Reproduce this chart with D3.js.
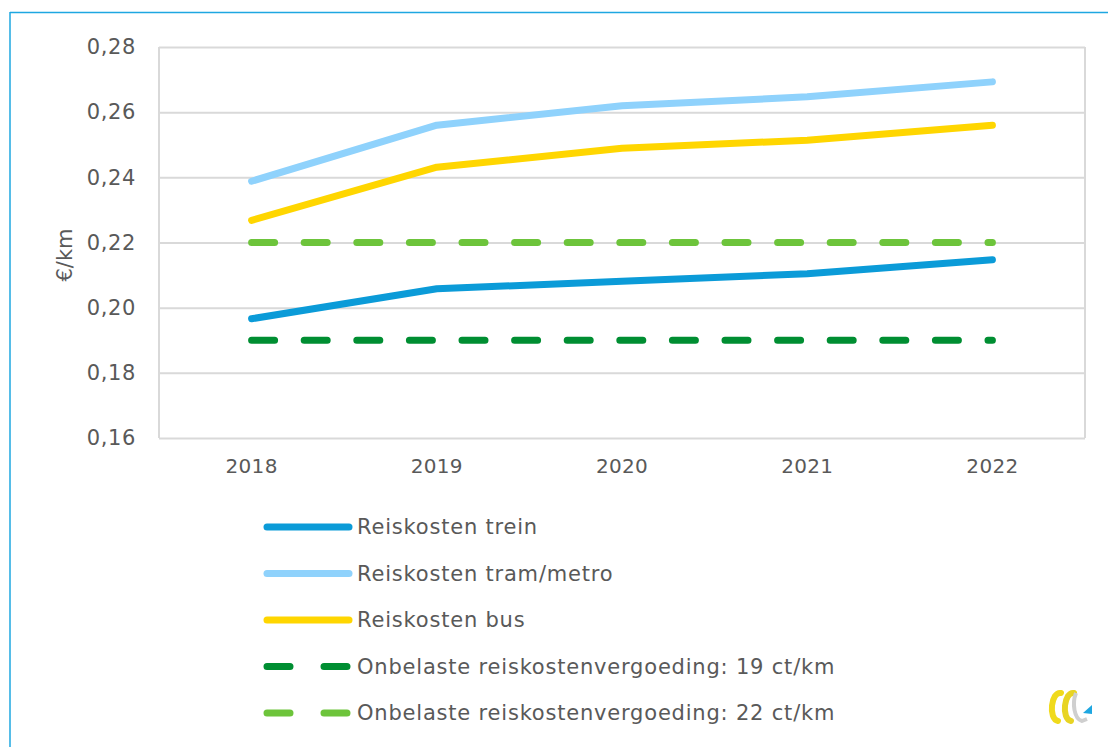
<!DOCTYPE html>
<html>
<head>
<meta charset="utf-8">
<script src="https://cdn.jsdelivr.net/npm/d3@7"></script>
<style>
  body { margin: 0; background: #fff; }
  svg text { font-family: "DejaVu Sans", Verdana, sans-serif; fill: #595959; }
</style>
</head>
<body>
<svg id="chart" width="1108" height="747"></svg>
<script>
// data
const years = ["2018", "2019", "2020", "2021", "2022"];
const trein = [0.1966, 0.2058, 0.2081, 0.2104, 0.2147];
const tramMetro = [0.2388, 0.2560, 0.2620, 0.2647, 0.2693];
const bus = [0.2268, 0.2431, 0.2489, 0.2514, 0.2560];
const vergoeding19 = [0.19, 0.19, 0.19, 0.19, 0.19];
const vergoeding22 = [0.22, 0.22, 0.22, 0.22, 0.22];
const yTicks = [0.16, 0.18, 0.20, 0.22, 0.24, 0.26, 0.28];

const series = [
  { name: "Reiskosten trein", values: trein, color: "#0b9bd8", dashed: false },
  { name: "Reiskosten tram/metro", values: tramMetro, color: "#8fd2fc", dashed: false },
  { name: "Reiskosten bus", values: bus, color: "#ffd600", dashed: false },
  { name: "Onbelaste reiskostenvergoeding: 19 ct/km", values: vergoeding19, color: "#008e32", dashed: true },
  { name: "Onbelaste reiskostenvergoeding: 22 ct/km", values: vergoeding22, color: "#6dc43b", dashed: true }
];

const svg = d3.select("#chart");
const margin = { top: 47, right: 23, bottom: 309, left: 159 };
const width = 1108, height = 747;

// outer frame (blue, top + left only visible)
svg.append("line").attr("x1", 10).attr("y1", 12.5).attr("x2", width).attr("y2", 12.5)
  .attr("stroke", "#1ea7e1").attr("stroke-width", 1.5);
svg.append("line").attr("x1", 10).attr("y1", 12).attr("x2", 10).attr("y2", height)
  .attr("stroke", "#1ea7e1").attr("stroke-width", 1.5);

const x = d3.scaleBand()
  .domain(years)
  .range([margin.left, width - margin.right]);

const y = d3.scaleLinear()
  .domain([0.16, 0.28])
  .range([height - margin.bottom, margin.top]);

// gridlines
const yGrid = d3.axisLeft(y)
  .tickValues(yTicks)
  .tickSize(-(width - margin.left - margin.right))
  .tickFormat("");
svg.append("g")
  .attr("transform", `translate(${margin.left}, 0)`)
  .call(yGrid)
  .call(g => g.select(".domain").remove())
  .call(g => g.selectAll("line").attr("stroke", "#d9d9d9").attr("stroke-width", 2));

// plot border sides
svg.append("g").selectAll("line")
  .data([margin.left, width - margin.right])
  .join("line")
  .attr("x1", d => d).attr("x2", d => d)
  .attr("y1", margin.top).attr("y2", height - margin.bottom)
  .attr("stroke", "#d9d9d9").attr("stroke-width", 2);

// y axis labels
const yAxis = d3.axisLeft(y)
  .tickValues(yTicks)
  .tickSize(0)
  .tickPadding(23)
  .tickFormat(d => d.toFixed(2).replace(".", ","));
svg.append("g")
  .attr("transform", `translate(${margin.left}, 0)`)
  .call(yAxis)
  .call(g => g.select(".domain").remove())
  .call(g => g.selectAll("text").style("font-size", "21px").style("letter-spacing", "0.6px").attr("fill", "#595959"));

// x axis labels
const xAxis = d3.axisBottom(x).tickSize(0).tickPadding(21);
svg.append("g")
  .attr("transform", `translate(0, ${height - margin.bottom})`)
  .call(xAxis)
  .call(g => g.select(".domain").remove())
  .call(g => g.selectAll("text").style("font-size", "20px").style("letter-spacing", "0.3px").attr("fill", "#595959"));

// y axis title
svg.append("text")
  .attr("transform", `translate(72, 255) rotate(-90)`)
  .attr("text-anchor", "middle")
  .style("font-size", "21px")
  .text("€/km");

// lines
const line = d3.line()
  .x((d, i) => x(years[i]) + x.bandwidth() / 2)
  .y(d => y(d));

svg.append("g").selectAll("path")
  .data(series)
  .join("path")
  .attr("d", d => line(d.values))
  .attr("fill", "none")
  .attr("stroke", d => d.color)
  .attr("stroke-width", 7)
  .attr("stroke-linecap", "round")
  .attr("stroke-linejoin", "round")
  .attr("stroke-dasharray", d => d.dashed ? "23,29.6" : null);

// legend
const legend = svg.append("g").selectAll("g")
  .data(series)
  .join("g")
  .attr("transform", (d, i) => `translate(267, ${527 + i * 46.5})`);

legend.append("line")
  .attr("x1", 0).attr("x2", 82)
  .attr("stroke", d => d.color)
  .attr("stroke-width", 7)
  .attr("stroke-linecap", "round")
  .attr("stroke-dasharray", d => d.dashed ? "23,34" : null);

legend.append("text")
  .attr("x", 90)
  .attr("dy", "0.35em")
  .style("font-size", "21px")
  .style("letter-spacing", "0.8px")
  .text(d => d.name);

// small logo in the corner
const logo = svg.append("g").attr("transform", "translate(1045, 689)");
logo.append("path")
  .attr("d", "M16,4 C6,2 3,30 13,32")
  .attr("fill", "none").attr("stroke", "#f0da1c").attr("stroke-width", 6).attr("stroke-linecap", "round");
logo.append("path")
  .attr("d", "M29,4 C19,2 16,30 26,32")
  .attr("fill", "none").attr("stroke", "#e8d424").attr("stroke-width", 6).attr("stroke-linecap", "round");
logo.append("path")
  .attr("d", "M31,4 C27,14 29,30 37,32 L42,30")
  .attr("fill", "none").attr("stroke", "#cfcfcf").attr("stroke-width", 4);
logo.append("path")
  .attr("d", "M38,24 L47,16 L47,25 Z")
  .attr("fill", "#1ea7e1");
</script>
</body>
</html>
